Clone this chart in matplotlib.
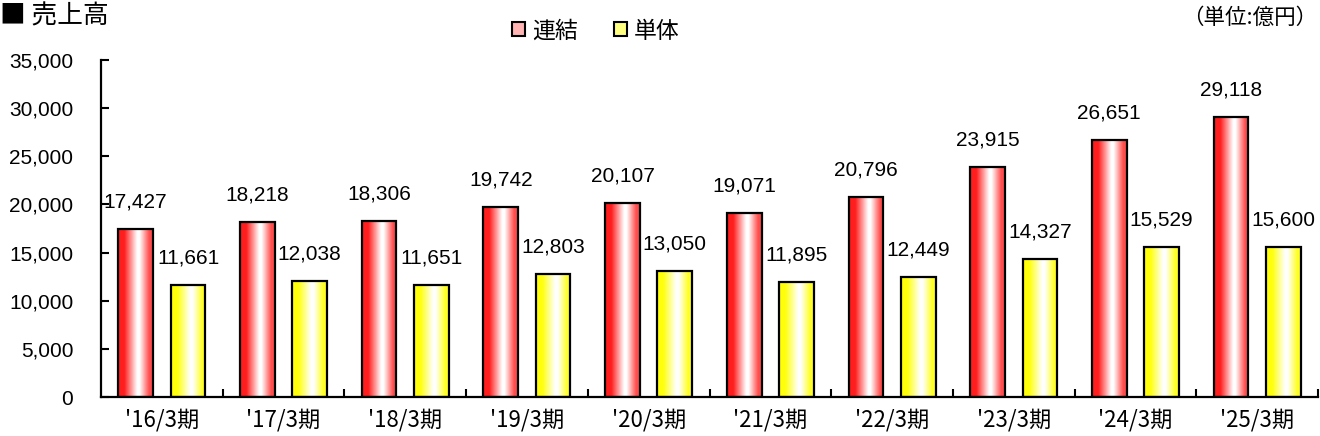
import numpy as np
import matplotlib
matplotlib.use("Agg")
import matplotlib.pyplot as plt
from matplotlib.patches import Rectangle
from matplotlib.ticker import FuncFormatter

# data (unit: 億円)
periods = ["'16/3期", "'17/3期", "'18/3期", "'19/3期", "'20/3期",
           "'21/3期", "'22/3期", "'23/3期", "'24/3期", "'25/3期"]
consolidated = [17427, 18218, 18306, 19742, 20107, 19071, 20796, 23915, 26651, 29118]
standalone = [11661, 12038, 11651, 12803, 13050, 11895, 12449, 14327, 15529, 15600]

plt.rcParams['font.family'] = ['Liberation Sans', 'Noto Sans CJK JP', 'DejaVu Sans']
jp = ['Noto Sans CJK JP', 'DejaVu Sans']


def gradient(edge_l, edge_r, n=64):
    # horizontal gradient: coloured edges, white slightly right of centre
    xs = np.linspace(0, 1, n)
    stops = [0.0, 0.18, 0.55, 0.62, 0.9, 1.0]
    cols = [edge_l, edge_l, (1, 1, 1), (1, 1, 1), edge_r, edge_r]
    img = np.zeros((1, n, 3))
    for c in range(3):
        img[0, :, c] = np.interp(xs, stops, [col[c] for col in cols])
    return img


red_grad = gradient((1.0, 0.12, 0.12), (1.0, 0.30, 0.30))
yel_grad = gradient((1.0, 1.0, 0.05), (1.0, 1.0, 0.15))

fig = plt.figure(figsize=(13.2, 4.36), dpi=100)
ax = fig.add_axes([101 / 1320, 39 / 436, 1217 / 1320, 337 / 436])

x = np.arange(len(periods))
w = 0.285
off = 0.215

for vals, dx, grad in [(consolidated, -off, red_grad), (standalone, off, yel_grad)]:
    bars = ax.bar(x + dx, vals, w, facecolor='none', edgecolor='black',
                  linewidth=1.6, zorder=3)
    for b, v in zip(bars, vals):
        bx, bw = b.get_x(), b.get_width()
        im = ax.imshow(grad, extent=[bx, bx + bw, 0, v], aspect='auto',
                       interpolation='bilinear', zorder=2)
        im.set_clip_path(b)
        ax.annotate(f"{v:,}", (bx + bw / 2, v), xytext=(0, 19.5),
                    textcoords='offset points', ha='center', va='center',
                    fontsize=15)

ax.set_xlim(-0.5, len(periods) - 0.5)
ax.set_ylim(0, 35000)

ax.set_yticks(np.arange(0, 35001, 5000))
ax.yaxis.set_major_formatter(FuncFormatter(lambda v, p: f"{int(v):,}"))
ax.tick_params(axis='y', direction='in', length=6, width=1.5, pad=20,
               labelsize=15)

ax.set_xticks(x)
ax.set_xticklabels(periods, fontsize=16, family=jp)
ax.set_xticks(np.arange(0.5, len(periods) - 0.5 + 0.01, 1), minor=True)
ax.tick_params(axis='x', which='major', length=0, pad=8)
ax.tick_params(axis='x', which='minor', direction='in', length=6, width=1.5)

for s in ['top', 'right']:
    ax.spines[s].set_visible(False)
for s in ['left', 'bottom']:
    ax.spines[s].set_linewidth(1.6)

# title, legend, unit
fig.text(0.0, 0.962, "■ 売上高", fontsize=18.5, family=jp, va='center', ha='left')
fig.text(0.998, 0.958, "（単位:億円）", fontsize=15.5, family=jp, va='center', ha='right')

handles = [Rectangle((0, 0), 1, 1, facecolor='#ffb3b3', edgecolor='black', linewidth=1.5),
           Rectangle((0, 0), 1, 1, facecolor='#ffff80', edgecolor='black', linewidth=1.5)]
fig.legend(handles, ["連結", "単体"], loc='center', bbox_to_anchor=(596 / 1320, 1 - 31 / 436),
           ncol=2, frameon=False, handlelength=0.55, handleheight=0.55,
           handletextpad=0.3, columnspacing=1.6, prop={'family': jp, 'size': 16.5})

fig.savefig("out.png", dpi=100)
